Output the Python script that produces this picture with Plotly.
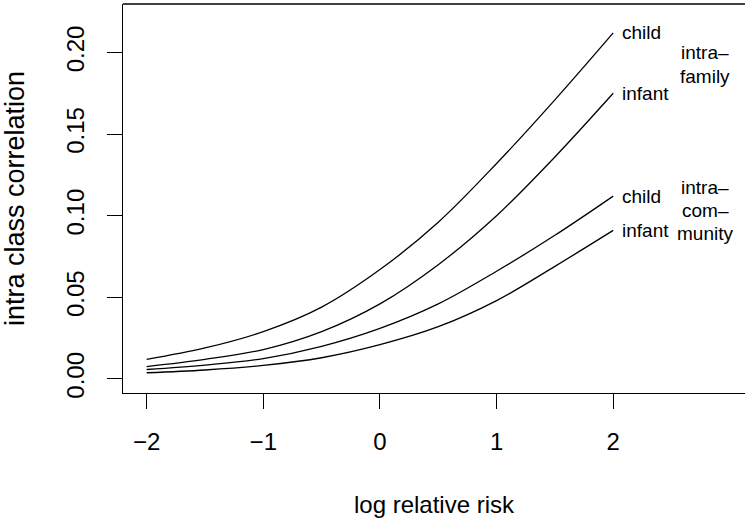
import plotly.graph_objects as go

# log relative risk
log_rr = [-2, -1.5, -1, -0.5, 0, 0.5, 1, 1.5, 2]

# intra class correlation
child_family = [0.012, 0.019, 0.029, 0.044, 0.067, 0.096, 0.132, 0.171, 0.212]
infant_family = [0.0076, 0.012, 0.018, 0.029, 0.046, 0.070, 0.100, 0.136, 0.175]
child_community = [0.0058, 0.0085, 0.0125, 0.020, 0.031, 0.046, 0.066, 0.088, 0.112]
infant_community = [0.0038, 0.0055, 0.0083, 0.013, 0.021, 0.032, 0.048, 0.069, 0.091]

series = [
    ('child', child_family),
    ('infant', infant_family),
    ('child', child_community),
    ('infant', infant_community),
]

group_labels = [('intra–', 0.1997), ('family', 0.1855),
                ('intra–', 0.1175), ('com–', 0.1033), ('munity', 0.0892)]

FONT = 'Arial'

fig = go.Figure()
for name, vals in series:
    fig.add_trace(go.Scatter(x=log_rr, y=vals, mode='lines', name=name,
                             line=dict(color='black', width=1.3, shape='spline'),
                             showlegend=False))
    fig.add_annotation(x=log_rr[-1], y=vals[-1], text=name, showarrow=False,
                       xanchor='left', xshift=7, font=dict(size=19, color='black', family=FONT))

for txt, yv in group_labels:
    fig.add_annotation(x=2.79, y=yv, text=txt, showarrow=False, xanchor='center',
                       font=dict(size=19, color='black', family=FONT))

# top edge of the box (right edge is cut off in the original)
fig.add_shape(type='line', xref='paper', yref='paper', x0=0, x1=1, y0=1, y1=1,
              line=dict(color='black', width=1.3))

fig.update_layout(
    width=745, height=518,
    margin=dict(l=123, r=0, t=4, b=125),
    plot_bgcolor='white', paper_bgcolor='white',
    font=dict(family=FONT, size=24, color='black'),
    xaxis=dict(range=[-2.203, 3.13], tickvals=[-2, -1, 0, 1, 2],
               ticktext=['−2', '−1', '0', '1', '2'],
               showgrid=False, zeroline=False, showline=True, linecolor='black', linewidth=1.3,
               ticks='outside', ticklen=15, tickwidth=1.3, tickcolor='black',
               ticklabelstandoff=12,
               title=dict(text='log relative risk', standoff=43, font=dict(size=24))),
    yaxis=dict(range=[-0.0086, 0.2297], tickvals=[0, 0.05, 0.1, 0.15, 0.2],
               ticktext=['0.00', '0.05', '0.10', '0.15', '0.20'], tickangle=-90,
               showgrid=False, zeroline=False, showline=True, linecolor='black', linewidth=1.3,
               ticks='outside', ticklen=15, tickwidth=1.3, tickcolor='black',
               ticklabelstandoff=13,
               title=dict(text='intra class correlation', standoff=42, font=dict(size=27))),
)

fig.write_html("out.html", config={'displayModeBar': False},
               post_script="document.body.style.margin='0';")
